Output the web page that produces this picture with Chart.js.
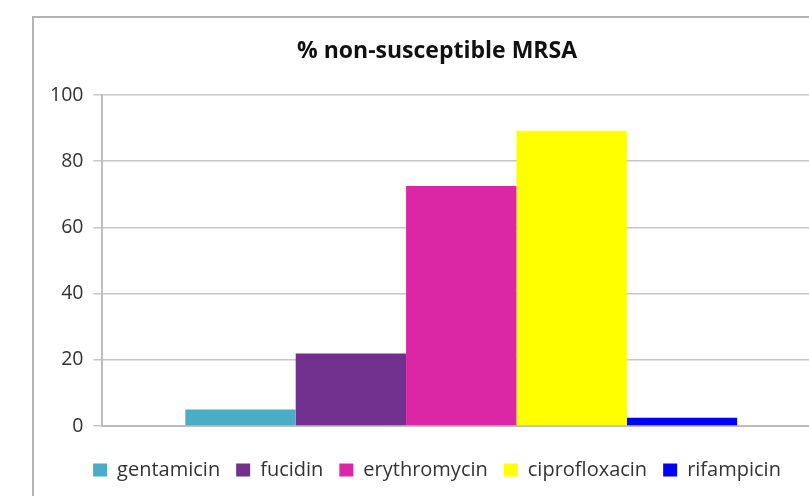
<!DOCTYPE html>
<html>
<head>
<meta charset="utf-8">
<script src="https://cdn.jsdelivr.net/npm/chart.js@4/dist/chart.umd.min.js"></script>
<style>
  html, body { margin: 0; padding: 0; overflow: hidden; background: #fff; width: 809px; height: 496px; }
  #frame { position: absolute; left: 32px; top: 16px; width: 813px; height: 500px; border: 2px solid #b4b4b4; box-sizing: border-box; }
  #chartDiv { position: absolute; left: 34px; top: 18px; width: 806px; height: 480px; }
</style>
</head>
<body>
<div id="frame"></div>
<div id="chartDiv"><canvas id="chartCanvas"></canvas></div>
<script>
// Chart data
let categories = [''];
let seriesNames = ['gentamicin', 'fucidin', 'erythromycin', 'ciprofloxacin', 'rifampicin'];
let seriesValues = [5.0, 21.9, 72.5, 89.2, 2.5];
let seriesColors = ['#4BACC6', '#72308E', '#DB26A6', '#FFFF00', '#0000FF'];
let yTicks = [0, 20, 40, 60, 80, 100];

// Build datasets (one bar per antibiotic)
let datasets = [];
for(let i = 0; i < seriesNames.length; i++)
{
  datasets.push({
    label: seriesNames[i],
    data: [seriesValues[i]],
    backgroundColor: seriesColors[i],
    borderWidth: 0,
    categoryPercentage: 0.767,
    barPercentage: 1.0
  });
}

let fontName = "'Open Sans', sans-serif";

let popCanvas = document.getElementById("chartCanvas");

let chart = new Chart(popCanvas, {
  type: 'bar',
  data: {
    labels: categories,
    datasets: datasets
  },
  options: {
    responsive: true,
    maintainAspectRatio: false,
    animation: false,
    layout: {
      padding: { left: 0, right: 0, top: 0, bottom: 8 }
    },
    plugins: {
      title: {
        display: true,
        text: '% non-susceptible MRSA',
        color: '#111',
        font: { family: fontName, size: 23, weight: 'bold' },
        padding: { top: 20, bottom: 29.4 }
      },
      legend: {
        position: 'bottom',
        labels: {
          color: '#333',
          font: { family: fontName, size: 20 },
          boxWidth: 14,
          boxHeight: 13,
          padding: 16
        }
      },
      tooltip: { enabled: false }
    },
    scales: {
      x: {
        // grid hidden, tickLength only keeps the space above the legend
        grid: { display: false, drawTicks: true, tickLength: 18 },
        border: { display: true, color: '#bdbdbd', width: 2 },
        ticks: { display: false }
      },
      y: {
        min: 0,
        max: 100,
        afterBuildTicks: function(scale)
        {
          scale.ticks = yTicks.map(v => ({ value: v }));
        },
        afterFit: function(scale)
        {
          scale.width = 67.5;
        },
        grid: { color: '#c6c6c6', lineWidth: 1.5, tickLength: 8 },
        border: { display: true, color: '#bdbdbd', width: 2 },
        ticks: {
          color: '#333',
          padding: 10,
          font: { family: fontName, size: 19.5 }
        }
      },
      // empty spacer on the right so the plot runs past the visible edge
      spacer: {
        type: 'linear',
        position: 'right',
        display: true,
        grid: { display: false, drawTicks: false },
        border: { display: false },
        ticks: { display: false },
        afterFit: function(scale)
        {
          scale.width = 19;
        }
      }
    }
  }
});
</script>
</body>
</html>
